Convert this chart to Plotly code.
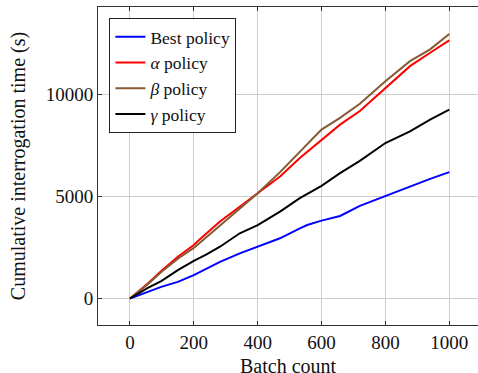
import plotly.graph_objects as go

# Batch count sample positions and cumulative interrogation times (s)
best_x = [0, 25, 56, 98, 150, 200, 240, 282, 344, 400, 470, 532, 555, 600, 658, 720, 800, 898, 940, 1000]
best_y = [0, 130, 325, 571, 817, 1147, 1476, 1801, 2215, 2539, 2953, 3445, 3607, 3819, 4050, 4542, 5030, 5610, 5871, 6200]

alpha_x = [0, 25, 56, 98, 150, 200, 219, 282, 344, 400, 470, 532, 600, 658, 720, 800, 877, 940, 1000]
alpha_y = [0, 325, 738, 1350, 2050, 2620, 2903, 3780, 4508, 5197, 5984, 6890, 7790, 8528, 9200, 10335, 11398, 12057, 12663]

beta_x = [0, 25, 56, 98, 150, 200, 219, 282, 344, 400, 470, 532, 600, 658, 720, 800, 877, 940, 1000]
beta_y = [0, 300, 700, 1300, 1950, 2480, 2736, 3600, 4429, 5167, 6200, 7215, 8283, 8858, 9555, 10660, 11644, 12220, 12980]

gamma_x = [0, 25, 56, 98, 150, 200, 240, 282, 344, 400, 470, 532, 600, 658, 720, 800, 877, 940, 1000]
gamma_y = [0, 246, 522, 851, 1393, 1850, 2165, 2539, 3200, 3600, 4262, 4921, 5527, 6152, 6750, 7628, 8199, 8775, 9267]

x_ticks = [0, 200, 400, 600, 800, 1000]
y_ticks = [0, 5000, 10000]

FONT = "Liberation Serif"
tick_font = dict(family=FONT, size=19, color="#111")
legend_font = dict(family=FONT, size=17.5, color="#111")
title_font = dict(family=FONT, size=20, color="#111")

series = [
    ("Best policy", best_x, best_y, "#0000ff"),
    ("<i>α</i> policy", alpha_x, alpha_y, "#ff0000"),
    ("<i>β</i> policy", beta_x, beta_y, "#855a32"),
    ("<i>γ</i> policy", gamma_x, gamma_y, "#000000"),
]

fig = go.Figure()
for name, xs, ys, col in series:
    fig.add_trace(go.Scatter(x=xs, y=ys, mode="lines", name=name,
                             line=dict(color=col, width=2)))

fig.update_layout(
    template="none",
    width=478, height=373,
    margin=dict(l=98, r=0, t=7, b=48, autoexpand=False),
    paper_bgcolor="white", plot_bgcolor="white",
    font=dict(family=FONT, size=19, color="#111"),
    showlegend=True,
    legend=dict(x=0.03, y=0.966, xanchor="left", yanchor="top",
                bgcolor="white", bordercolor="#222", borderwidth=1,
                font=legend_font, tracegroupgap=0, itemwidth=30),
    xaxis=dict(range=[-100, 1090], tickvals=x_ticks, ticktext=[str(v) for v in x_ticks],
               tickfont=tick_font,
               showgrid=True, gridcolor="#cccccc", gridwidth=1,
               showline=True, linecolor="#333", linewidth=1, mirror="ticks",
               ticks="inside", ticklen=4, tickcolor="#333", zeroline=False,
               automargin=False),
    yaxis=dict(range=[-1300, 14300], tickvals=y_ticks, ticktext=[str(v) for v in y_ticks],
               tickfont=tick_font,
               showgrid=True, gridcolor="#cccccc", gridwidth=1,
               showline=True, linecolor="#333", linewidth=1, mirror=False,
               ticks="inside", ticklen=4, tickcolor="#333", zeroline=False,
               automargin=False,
               title=dict(text="Cumulative interrogation time (s)", standoff=14, font=title_font)),
)
fig.add_annotation(text="Batch count", xref="paper", yref="paper", x=0.5, y=-0.129,
                   xanchor="center", yanchor="middle", showarrow=False, font=title_font)

fig.write_html("out.html", config={"displayModeBar": False},
               post_script="document.body.style.margin='0';document.body.style.overflow='hidden';")
